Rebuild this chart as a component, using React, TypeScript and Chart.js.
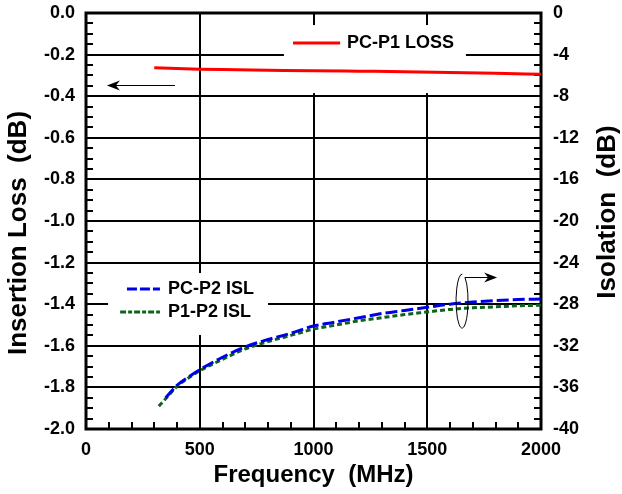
import React, { useEffect, useRef } from 'react';
import { Chart, registerables } from 'chart.js';
Chart.register(...registerables);

const freqLoss = [300, 400, 500, 600, 800, 1000, 1200, 1400, 1600, 1800, 2000];
const pcP1Loss = [-0.263, -0.267, -0.27, -0.272, -0.275, -0.278, -0.28, -0.282, -0.286, -0.29, -0.295];

const freqPcP2 = [350, 400, 450, 500, 600, 700, 800, 900, 1000, 1100, 1200, 1300, 1400, 1500, 1600, 1700, 1800, 1900, 2000];
const pcP2Isl = [-37.0, -35.8, -35.0, -34.3, -33.1, -32.1, -31.4, -30.8, -30.1, -29.7, -29.3, -28.9, -28.6, -28.3, -28.0, -27.8, -27.65, -27.55, -27.5];

const freqP1P2 = [320, 350, 400, 450, 500, 600, 700, 800, 900, 1000, 1100, 1200, 1300, 1400, 1500, 1600, 1700, 1800, 1900, 2000];
const p1P2Isl = [-37.8, -37.1, -35.9, -35.1, -34.4, -33.3, -32.3, -31.6, -31.0, -30.4, -30.0, -29.6, -29.3, -29.0, -28.75, -28.5, -28.35, -28.25, -28.15, -28.1];

const xTitle = 'Frequency  (MHz)';
const yTitle = 'Insertion Loss  (dB)';
const y1Title = 'Isolation  (dB)';
const legendLoss = 'PC-P1 LOSS';
const legendPcP2 = 'PC-P2 ISL';
const legendP1P2 = 'P1-P2 ISL';

const FONT = 'Arial, "Liberation Sans", Helvetica, sans-serif';
const RED = '#ff0000';
const BLUE = '#0000e6';
const GREEN = '#0b6418';

const decorPlugin = {
  id: 'decor',
  beforeDatasetsDraw(chart: any) {
    const ctx = chart.ctx;
    const xs = chart.scales.x;
    const ys = chart.scales.y;
    const y1 = chart.scales.y1;
    const a = chart.chartArea;
    const px = (v: number) => xs.getPixelForValue(v);
    const py = (v: number) => ys.getPixelForValue(v);
    ctx.save();
    ctx.fillStyle = '#ffffff';
    ctx.fillRect(px(870), py(-0.058), px(1670) - px(870), py(-0.385) - py(-0.058));
    ctx.fillRect(px(97), py(-1.25), px(800) - px(97), py(-1.548) - py(-1.25));
    ctx.strokeStyle = '#000';
    ctx.lineWidth = 2;
    ctx.beginPath();
    for (let f = 100; f < 2000; f += 100) {
      const x = Math.round(px(f));
      ctx.moveTo(x, a.bottom);
      ctx.lineTo(x, a.bottom - 7);
    }
    for (let v = -1.95; v < 0; v += 0.05) {
      const y = Math.round(py(v));
      ctx.moveTo(a.left, y);
      ctx.lineTo(a.left + 7, y);
    }
    for (let v = -39; v < 0; v += 1) {
      const y = Math.round(y1.getPixelForValue(v));
      ctx.moveTo(a.right, y);
      ctx.lineTo(a.right - 7, y);
    }
    ctx.stroke();
    ctx.lineWidth = 3;
    ctx.strokeRect(a.left, a.top, a.right - a.left, a.bottom - a.top);
    ctx.restore();
  },
  afterDatasetsDraw(chart: any) {
    const ctx = chart.ctx;
    const xs = chart.scales.x;
    const ys = chart.scales.y;
    const px = (v: number) => xs.getPixelForValue(v);
    const py = (v: number) => ys.getPixelForValue(v);
    ctx.save();
    ctx.font = `bold 18px ${FONT}`;
    ctx.fillStyle = '#000';
    ctx.textBaseline = 'middle';
    ctx.textAlign = 'left';
    ctx.lineWidth = 3;
    ctx.strokeStyle = RED;
    ctx.beginPath();
    ctx.moveTo(px(910), py(-0.144));
    ctx.lineTo(px(1117), py(-0.144));
    ctx.stroke();
    ctx.fillText(legendLoss, px(1147), py(-0.144));

    ctx.strokeStyle = BLUE;
    ctx.setLineDash([10, 3]);
    ctx.beginPath();
    ctx.moveTo(px(180), py(-1.327));
    ctx.lineTo(px(325), py(-1.327));
    ctx.stroke();
    ctx.fillText(legendPcP2, px(360), py(-1.327));

    ctx.strokeStyle = GREEN;
    ctx.setLineDash([6, 2, 4, 2]);
    ctx.beginPath();
    ctx.moveTo(px(150), py(-1.4375));
    ctx.lineTo(px(325), py(-1.4375));
    ctx.stroke();
    ctx.fillText(legendP1P2, px(360), py(-1.4375));
    ctx.setLineDash([]);

    ctx.strokeStyle = '#000';
    ctx.fillStyle = '#000';
    ctx.lineWidth = 1;
    const ay = Math.round(py(-0.346)) + 0.5;
    const ax0 = px(391), ax1 = px(92);
    ctx.beginPath();
    ctx.moveTo(ax0, ay);
    ctx.lineTo(ax1 + 8, ay);
    ctx.stroke();
    ctx.beginPath();
    ctx.moveTo(ax1, ay);
    ctx.lineTo(ax1 + 13, ay - 5);
    ctx.lineTo(ax1 + 9, ay);
    ctx.lineTo(ax1 + 13, ay + 5);
    ctx.closePath();
    ctx.fill();

    const ex = px(1653), ey = py(-1.385);
    ctx.beginPath();
    ctx.ellipse(ex, ey, 6, 27, 0, -Math.PI / 2 + 0.5, -Math.PI / 2 + 0.05, false);
    ctx.stroke();
    const ry = Math.round(py(-1.27)) + 0.5;
    const rx0 = px(1666), rx1 = px(1807);
    ctx.beginPath();
    ctx.moveTo(rx0, ry);
    ctx.lineTo(rx1 - 8, ry);
    ctx.stroke();
    ctx.beginPath();
    ctx.moveTo(rx1, ry);
    ctx.lineTo(rx1 - 13, ry - 5);
    ctx.lineTo(rx1 - 9, ry);
    ctx.lineTo(rx1 - 13, ry + 5);
    ctx.closePath();
    ctx.fill();
    ctx.restore();
  },
  afterDraw(chart: any) {
    const ctx = chart.ctx;
    const a = chart.chartArea;
    ctx.save();
    ctx.fillStyle = '#000';
    ctx.textAlign = 'center';
    ctx.textBaseline = 'middle';
    ctx.font = `bold 24px ${FONT}`;
    ctx.fillText(xTitle, (a.left + a.right) / 2, 475);
    ctx.font = `bold 26px ${FONT}`;
    ctx.translate(19, 233);
    ctx.rotate(-Math.PI / 2);
    ctx.fillText(yTitle, 0, 0);
    ctx.restore();
    ctx.save();
    ctx.fillStyle = '#000';
    ctx.font = `bold 26px ${FONT}`;
    ctx.textAlign = 'center';
    ctx.textBaseline = 'middle';
    ctx.translate(608, 212);
    ctx.rotate(-Math.PI / 2);
    ctx.fillText(y1Title, 0, 0);
    ctx.restore();
  },
};

export default function App() {
  const ref = useRef<HTMLCanvasElement | null>(null);
  useEffect(() => {
    if (!ref.current) return;
    const tickFont = { family: FONT, size: 18, weight: 'bold' as const };
    const vFit = (w: number) => (s: any) => {
      s.width = w;
      s.paddingTop = 0;
      s.paddingBottom = 0;
    };
    const chart = new Chart(ref.current, {
      type: 'line',
      data: {
        datasets: [
          {
            label: legendLoss,
            data: freqLoss.map((f, i) => ({ x: f, y: pcP1Loss[i] })),
            borderColor: RED,
            borderWidth: 3,
            pointRadius: 0,
            cubicInterpolationMode: 'monotone',
            yAxisID: 'y',
          },
          {
            label: legendPcP2,
            data: freqPcP2.map((f, i) => ({ x: f, y: pcP2Isl[i] })),
            borderColor: BLUE,
            borderWidth: 3,
            borderDash: [12, 4],
            pointRadius: 0,
            cubicInterpolationMode: 'monotone',
            yAxisID: 'y1',
          },
          {
            label: legendP1P2,
            data: freqP1P2.map((f, i) => ({ x: f, y: p1P2Isl[i] })),
            borderColor: GREEN,
            borderWidth: 3,
            borderDash: [5, 3],
            pointRadius: 0,
            cubicInterpolationMode: 'monotone',
            yAxisID: 'y1',
          },
        ],
      },
      options: {
        responsive: false,
        animation: false,
        layout: { padding: { top: 13, left: 0, right: 0, bottom: 0 } },
        plugins: { legend: { display: false }, tooltip: { enabled: false } },
        scales: {
          x: {
            type: 'linear',
            min: 0,
            max: 2000,
            ticks: {
              stepSize: 500,
              font: tickFont,
              color: '#000',
              padding: 10,
              maxRotation: 0,
              callback: (v: any) => String(Math.round(Number(v))),
            },
            grid: { color: '#000', lineWidth: 2, drawTicks: false },
            border: { display: false },
            afterFit: (s: any) => {
              s.height = 65;
              s.paddingLeft = 0;
              s.paddingRight = 0;
            },
          },
          y: {
            type: 'linear',
            position: 'left',
            min: -2,
            max: 0,
            ticks: {
              stepSize: 0.2,
              font: tickFont,
              color: '#000',
              padding: 11,
              callback: (v: any) => Number(v).toFixed(1),
            },
            grid: { color: '#000', lineWidth: 2, drawTicks: false },
            border: { display: false },
            afterFit: vFit(86),
          },
          y1: {
            type: 'linear',
            position: 'right',
            min: -40,
            max: 0,
            ticks: {
              stepSize: 4,
              font: tickFont,
              color: '#000',
              padding: 12,
              callback: (v: any) => String(Math.round(Number(v))),
            },
            grid: { display: false, drawTicks: false },
            border: { display: false },
            afterFit: vFit(81),
          },
        },
      },
      plugins: [decorPlugin],
    } as any);
    return () => chart.destroy();
  }, []);
  return (
    <div style={{ position: 'absolute', left: 0, top: 0, width: 622, height: 494, background: '#fff' }}>
      <canvas ref={ref} width={622} height={494} />
    </div>
  );
}
